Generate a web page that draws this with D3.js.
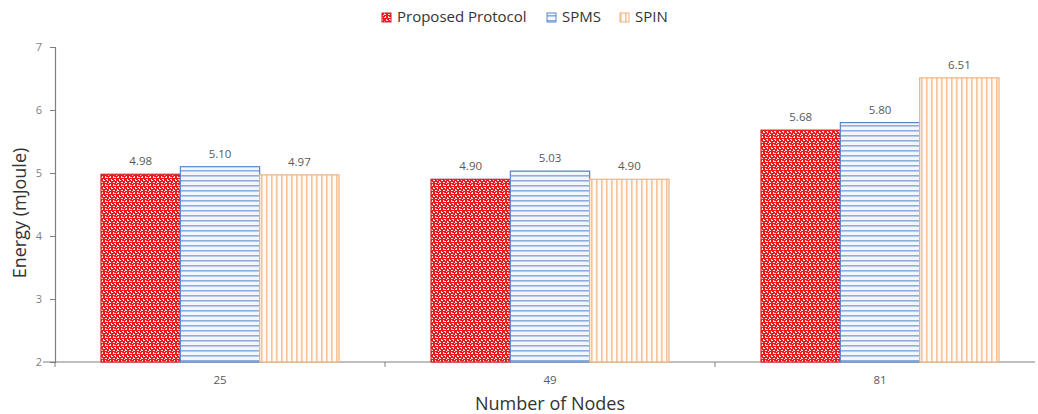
<!DOCTYPE html>
<html>
<head>
<meta charset="utf-8">
<script src="https://cdn.jsdelivr.net/npm/d3@7"></script>
<style>
  body { margin: 0; background: #fff; }
  text { font-family: "Open Sans", Lato, sans-serif; }
</style>
</head>
<body>
<div id="chart"></div>
<script>
// Chart data
const categories = ['25', '49', '81'];
const seriesNames = ['Proposed Protocol', 'SPMS', 'SPIN'];
const proposed = [4.98, 4.90, 5.68];
const spms = [5.10, 5.03, 5.80];
const spin = [4.97, 4.90, 6.51];
const yTicks = [2, 3, 4, 5, 6, 7];

const seriesValues = [proposed, spms, spin];

const width = 1038, height = 414;
const margin = { top: 47, bottom: 52, left: 55 };
const bandRight = 1045; // category bands run slightly past the visible axis end
const axisEnd = 1035;

const svg = d3.select('#chart').append('svg')
  .attr('width', width)
  .attr('height', height);

// Fill patterns
const defs = svg.append('defs');

// red with white specks
const pRed = defs.append('pattern')
  .attr('id', 'pat-red')
  .attr('patternUnits', 'userSpaceOnUse')
  .attr('width', 8).attr('height', 8);
pRed.append('rect').attr('width', 8).attr('height', 8).attr('fill', '#f01818');
[[0, 1, 2, 1], [1, 0, 1, 1], [4, 0, 1, 2], [5, 1, 1, 1], [2, 3, 1, 2], [3, 4, 1, 1],
 [5, 3, 2, 1], [6, 4, 1, 1], [0, 5, 1, 2], [1, 6, 1, 1], [4, 6, 2, 1], [7, 7, 1, 1], [6, 1, 1, 1]].forEach(([x, y, w, h]) => {
  pRed.append('rect').attr('x', x).attr('y', y).attr('width', w).attr('height', h).attr('fill', '#ffe0e0');
});

// blue horizontal lines
const pBlue = defs.append('pattern')
  .attr('id', 'pat-blue')
  .attr('patternUnits', 'userSpaceOnUse')
  .attr('width', 6).attr('height', 5);
pBlue.append('rect').attr('width', 6).attr('height', 5).attr('fill', '#f3f7fd');
pBlue.append('rect').attr('y', 0).attr('width', 6).attr('height', 1.6).attr('fill', '#8eaddf');

// orange vertical lines
const pOrange = defs.append('pattern')
  .attr('id', 'pat-orange')
  .attr('patternUnits', 'userSpaceOnUse')
  .attr('width', 5).attr('height', 6);
pOrange.append('rect').attr('width', 5).attr('height', 6).attr('fill', '#fffaf5');
pOrange.append('rect').attr('x', 0).attr('width', 1.6).attr('height', 6).attr('fill', '#f7c49a');

const fills = ['url(#pat-red)', 'url(#pat-blue)', 'url(#pat-orange)'];
const strokes = ['#d42020', '#5b86cf', '#f2b27c'];

// Scales
const x0 = d3.scaleBand()
  .domain(categories)
  .range([margin.left, bandRight]);

const groupWidth = 238;
const x1 = d3.scaleBand()
  .domain(seriesNames)
  .range([0, groupWidth]);

const y = d3.scaleLinear()
  .domain([2, 7])
  .range([height - margin.bottom, margin.top]);

// Y axis
const yAxis = d3.axisLeft(y)
  .tickValues(yTicks)
  .tickSize(5)
  .tickPadding(8)
  .tickFormat(d3.format('d'));

const yG = svg.append('g')
  .attr('transform', `translate(${margin.left},0)`)
  .call(yAxis);
yG.select('.domain').attr('stroke', '#7f7f7f').attr('stroke-width', 1.2);
yG.selectAll('.tick line').attr('stroke', '#7f7f7f');
yG.selectAll('.tick text').attr('fill', '#7f7f7f').attr('font-size', 11);

// X axis
const xAxis = d3.axisBottom(x0)
  .tickSize(0)
  .tickPadding(14);
const xG = svg.append('g')
  .attr('transform', `translate(0,${height - margin.bottom})`)
  .call(xAxis);
xG.select('.domain').remove();
xG.append('line')
  .attr('x1', margin.left - 12).attr('x2', axisEnd)
  .attr('stroke', '#7f7f7f').attr('stroke-width', 1.2);
xG.selectAll('.tick text').attr('fill', '#595959').attr('font-size', 11.5);

// category divider ticks
const dividers = categories.map(c => x0(c)).filter(d => d <= axisEnd);
xG.selectAll('.divider')
  .data(dividers)
  .enter().append('line')
  .attr('x1', d => d).attr('x2', d => d)
  .attr('y1', 0).attr('y2', 5)
  .attr('stroke', '#7f7f7f');

// Bars
const groups = svg.append('g').selectAll('g')
  .data(categories)
  .enter().append('g')
  .attr('transform', c => `translate(${x0(c) + (x0.bandwidth() - groupWidth) / 2},0)`);

groups.each(function(c, ci) {
  const g = d3.select(this);
  seriesNames.forEach((s, si) => {
    const v = seriesValues[si][ci];
    g.append('rect')
      .attr('x', x1(s))
      .attr('y', y(v))
      .attr('width', x1.bandwidth())
      .attr('height', y(2) - y(v))
      .attr('fill', fills[si])
      .attr('stroke', strokes[si])
      .attr('stroke-width', 1.2);
    g.append('text')
      .attr('x', x1(s) + x1.bandwidth() / 2)
      .attr('y', y(v) - 9)
      .attr('text-anchor', 'middle')
      .attr('fill', '#595959')
      .attr('font-size', 11.5)
      .text(v.toFixed(2));
  });
});

// Axis titles
svg.append('text')
  .attr('transform', 'translate(26,213) rotate(-90)')
  .attr('text-anchor', 'middle')
  .attr('fill', '#333')
  .attr('font-size', 18)
  .text('Energy (mJoule)');

svg.append('text')
  .attr('x', 550)
  .attr('y', 410)
  .attr('text-anchor', 'middle')
  .attr('fill', '#333')
  .attr('font-size', 18)
  .text('Number of Nodes');

// Legend
const legendX = [382, 547, 620];
const legend = svg.append('g');
seriesNames.forEach((s, i) => {
  legend.append('rect')
    .attr('x', legendX[i])
    .attr('y', 13)
    .attr('width', 9).attr('height', 9)
    .attr('fill', fills[i])
    .attr('stroke', strokes[i]);
  legend.append('text')
    .attr('x', legendX[i] + 15)
    .attr('y', 22)
    .attr('fill', '#333')
    .attr('font-size', 15)
    .text(s);
});
</script>
</body>
</html>
